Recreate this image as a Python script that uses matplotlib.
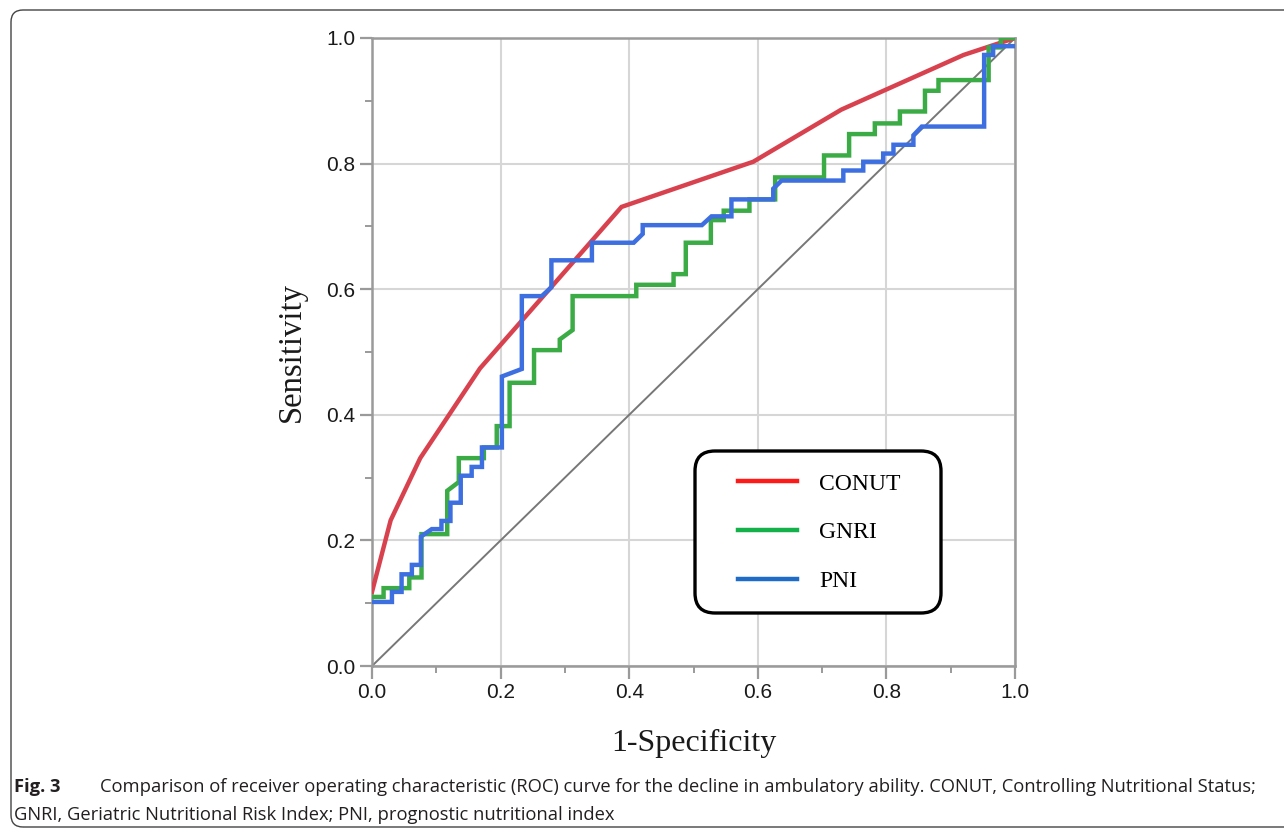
import matplotlib
matplotlib.use("Agg")
import matplotlib.pyplot as plt
from matplotlib.patches import FancyBboxPatch
from matplotlib.lines import Line2D
from matplotlib.ticker import MultipleLocator

# ---------------- data ----------------
conut_fpr = [0.0, 0.029, 0.075, 0.168, 0.388, 0.593, 0.730, 0.920, 1.0]
conut_tpr = [0.118, 0.232, 0.331, 0.474, 0.731, 0.803, 0.886, 0.973, 1.0]

gnri_fpr = [0.0, 0.018, 0.018, 0.058, 0.058, 0.077, 0.077, 0.117, 0.117, 0.135,
            0.135, 0.174, 0.174, 0.194, 0.194, 0.214, 0.214, 0.252, 0.252, 0.292,
            0.292, 0.312, 0.312, 0.411, 0.411, 0.469, 0.469, 0.488, 0.488, 0.527,
            0.527, 0.547, 0.547, 0.587, 0.587, 0.627, 0.627, 0.703, 0.703, 0.742,
            0.742, 0.782, 0.782, 0.821, 0.821, 0.860, 0.860, 0.881, 0.881, 0.959,
            0.959, 0.978, 0.978, 1.0]
gnri_tpr = [0.110, 0.110, 0.124, 0.124, 0.141, 0.141, 0.210, 0.210, 0.279, 0.293,
            0.331, 0.331, 0.348, 0.348, 0.382, 0.382, 0.451, 0.451, 0.503, 0.503,
            0.520, 0.535, 0.589, 0.589, 0.607, 0.607, 0.624, 0.624, 0.674, 0.674,
            0.710, 0.710, 0.725, 0.725, 0.743, 0.743, 0.778, 0.778, 0.813, 0.813,
            0.847, 0.847, 0.864, 0.864, 0.883, 0.883, 0.916, 0.916, 0.933, 0.933,
            0.985, 0.985, 1.0, 1.0]

pni_fpr = [0.0, 0.031, 0.031, 0.046, 0.046, 0.062, 0.062, 0.076, 0.076, 0.093,
           0.108, 0.108, 0.122, 0.122, 0.138, 0.138, 0.155, 0.155, 0.171, 0.171,
           0.202, 0.202, 0.233, 0.233, 0.264, 0.279, 0.279, 0.342, 0.342, 0.407,
           0.421, 0.421, 0.513, 0.528, 0.559, 0.559, 0.624, 0.624, 0.637, 0.733,
           0.733, 0.764, 0.764, 0.795, 0.795, 0.811, 0.811, 0.842, 0.842, 0.855,
           0.952, 0.952, 0.966, 0.966, 1.0]
pni_tpr = [0.102, 0.102, 0.118, 0.118, 0.146, 0.146, 0.161, 0.161, 0.206, 0.218,
           0.218, 0.231, 0.231, 0.260, 0.260, 0.303, 0.303, 0.317, 0.317, 0.348,
           0.348, 0.461, 0.473, 0.589, 0.589, 0.603, 0.646, 0.646, 0.674, 0.674,
           0.688, 0.702, 0.702, 0.716, 0.716, 0.743, 0.743, 0.760, 0.773, 0.773,
           0.789, 0.789, 0.803, 0.803, 0.816, 0.816, 0.830, 0.830, 0.845, 0.859,
           0.859, 0.973, 0.973, 0.987, 0.987]

ref_line = [0.0, 1.0]

series_names = ["CONUT", "GNRI", "PNI"]
curve_colors = ["#d8424f", "#3aab45", "#3d6fe0"]
legend_colors = ["#ff1a1a", "#14b04a", "#1f6cc8"]

tick_values = [0.0, 0.2, 0.4, 0.6, 0.8, 1.0]
tick_labels = ["0.0", "0.2", "0.4", "0.6", "0.8", "1.0"]

caption_bold = "Fig. 3"
caption_line1 = ("Comparison of receiver operating characteristic (ROC) curve for the decline "
                 "in ambulatory ability. CONUT, Controlling Nutritional Status;")
caption_line2 = "GNRI, Geriatric Nutritional Risk Index; PNI, prognostic nutritional index"

# ---------------- figure ----------------
W, H = 1284, 831
fig = plt.figure(figsize=(W / 100, H / 100), dpi=100)
fig.patch.set_facecolor("white")

# outer rounded frame (open on the right side)
frame = FancyBboxPatch((11 / 100, (H - 827) / 100), (W + 40 - 11) / 100, (827 - 10) / 100,
                       boxstyle="round,pad=0,rounding_size=0.12",
                       transform=fig.dpi_scale_trans, facecolor="none",
                       edgecolor="#444444", linewidth=1.0, clip_on=False)
fig.patches.append(frame)

ax = fig.add_axes([372 / W, 1 - 666 / H, (1015 - 372) / W, (666 - 38) / H])
ax.set_xlim(0, 1)
ax.set_ylim(0, 1)

ax.grid(True, which="major", color="#d6d6d6", linewidth=1.5, zorder=0)
ax.set_axisbelow(True)

ax.plot(ref_line, ref_line, color="#777777", linewidth=1.4, zorder=2)
ax.plot(conut_fpr, conut_tpr, color=curve_colors[0], linewidth=3.2, zorder=3,
        solid_joinstyle="miter")
ax.plot(gnri_fpr, gnri_tpr, color=curve_colors[1], linewidth=3.2, zorder=4,
        solid_joinstyle="miter")
ax.plot(pni_fpr, pni_tpr, color=curve_colors[2], linewidth=3.2, zorder=5,
        solid_joinstyle="miter")

for s in ax.spines.values():
    s.set_color("#9a9a9a")
    s.set_linewidth(1.8)

ax.set_xticks(tick_values)
ax.set_xticklabels(tick_labels)
ax.set_yticks(tick_values)
ax.set_yticklabels(tick_labels)
ax.xaxis.set_minor_locator(MultipleLocator(0.1))
ax.yaxis.set_minor_locator(MultipleLocator(0.1))
ax.tick_params(which="major", length=9, width=1.6, color="#9a9a9a", direction="out",
               labelsize=15, labelcolor="#1a1a1a", pad=3)
ax.tick_params(which="minor", length=5, width=1.4, color="#9a9a9a", direction="out")
for lab in ax.get_xticklabels() + ax.get_yticklabels():
    lab.set_fontfamily("Liberation Sans")

ax.set_xlabel("1-Specificity", fontfamily="Liberation Serif", fontsize=23, color="#1a1a1a",
              labelpad=20)
ax.set_ylabel("Sensitivity", fontfamily="Liberation Serif", fontsize=23.5, color="#1a1a1a",
              labelpad=14)

# legend box
lbox = FancyBboxPatch((695 / 100, (H - 613) / 100), (941 - 695) / 100, (613 - 451) / 100,
                      boxstyle="round,pad=0,rounding_size=0.2",
                      transform=fig.dpi_scale_trans, facecolor="white",
                      edgecolor="black", linewidth=2.4, zorder=10)
fig.patches.append(lbox)

handles = [Line2D([0], [0], color=c, linewidth=3.2) for c in legend_colors]
leg = fig.legend(handles, series_names, loc="upper left",
                 bbox_to_anchor=(738 / W, 1 - 473 / H), bbox_transform=fig.transFigure,
                 frameon=False, borderpad=0, borderaxespad=0,
                 handlelength=2.5, handletextpad=0.95, labelspacing=1.15,
                 prop={"family": "Liberation Serif", "size": 17})
leg.set_zorder(11)

# caption
fig.text(14 / W, 1 - 787 / H, caption_bold, fontfamily="Open Sans", fontweight="bold",
         fontsize=13.2, color="#231f20", va="center", ha="left")
fig.text(100 / W, 1 - 787 / H, caption_line1, fontfamily="Open Sans",
         fontsize=13.2, color="#231f20", va="center", ha="left")
fig.text(14 / W, 1 - 815 / H, caption_line2, fontfamily="Open Sans",
         fontsize=13.2, color="#231f20", va="center", ha="left")

fig.savefig("out.png", dpi=100)
